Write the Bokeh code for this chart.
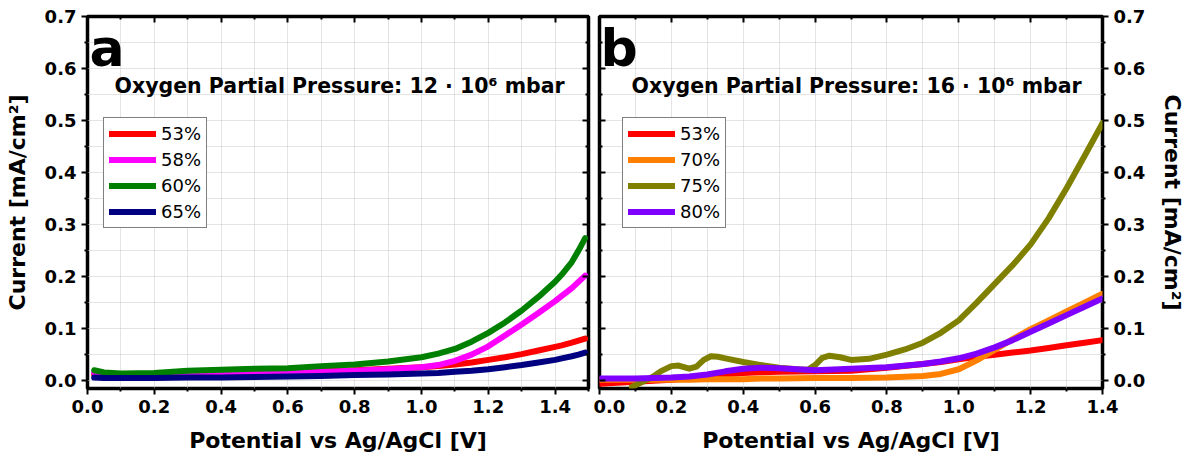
from bokeh.plotting import figure
from bokeh.layouts import row
from bokeh.models import (Range1d, LinearAxis, FixedTicker, PrintfTickFormatter,
                          Label, Legend, LegendItem)
from bokeh.embed import file_html
from bokeh.resources import INLINE

# ---------------- data: panel a (12 x 10^6 mbar) ----------------
xa = [0.02, 0.05, 0.1, 0.2, 0.3, 0.4, 0.5, 0.6, 0.7, 0.8, 0.9, 1.0, 1.05, 1.1,
      1.15, 1.2, 1.25, 1.3, 1.35, 1.4, 1.42, 1.45, 1.47, 1.49]
a_53 = [0.012, 0.011, 0.010, 0.010, 0.011, 0.012, 0.014, 0.016, 0.018, 0.020, 0.023,
        0.026, 0.028, 0.031, 0.035, 0.040, 0.045, 0.051, 0.058, 0.065, 0.068, 0.073,
        0.077, 0.081]
a_58 = [0.016, 0.012, 0.010, 0.010, 0.011, 0.012, 0.013, 0.015, 0.017, 0.019, 0.022,
        0.026, 0.030, 0.038, 0.050, 0.066, 0.087, 0.108, 0.130, 0.153, 0.163, 0.178,
        0.190, 0.202]
a_60 = [0.020, 0.016, 0.014, 0.015, 0.019, 0.021, 0.023, 0.024, 0.028, 0.031, 0.037,
        0.045, 0.052, 0.061, 0.075, 0.092, 0.112, 0.135, 0.161, 0.190, 0.204, 0.228,
        0.250, 0.274]
a_65 = [0.006, 0.005, 0.005, 0.005, 0.006, 0.006, 0.007, 0.008, 0.009, 0.011, 0.012,
        0.014, 0.015, 0.017, 0.019, 0.022, 0.026, 0.030, 0.035, 0.040, 0.043, 0.047,
        0.050, 0.054]
labels_a = ["53%", "58%", "60%", "65%"]
colors_a = ["#ff0000", "#ff00ff", "#008000", "#000080"]
title_a = "Oxygen Partial Pressure: 12 \u00b7 10\u2076 mbar"

# ---------------- data: panel b (16 x 10^6 mbar) ----------------
xb = [0.0, 0.1, 0.2, 0.25, 0.3, 0.35, 0.4, 0.45, 0.5, 0.6, 0.7, 0.8, 0.9, 0.95, 1.0,
      1.05, 1.1, 1.15, 1.2, 1.25, 1.3, 1.35, 1.4]
b_53 = [-0.006, -0.002, 0.002, 0.005, 0.008, 0.012, 0.015, 0.016, 0.017, 0.018, 0.019,
        0.025, 0.032, 0.036, 0.041, 0.046, 0.050, 0.054, 0.058, 0.063, 0.068, 0.073,
        0.078]
b_70 = [0.002, 0.002, 0.002, 0.002, 0.003, 0.003, 0.003, 0.004, 0.004, 0.005, 0.005,
        0.006, 0.009, 0.013, 0.022, 0.039, 0.059, 0.080, 0.099, 0.116, 0.133, 0.150,
        0.167]
b_80 = [0.004, 0.004, 0.006, 0.008, 0.012, 0.018, 0.023, 0.025, 0.024, 0.020, 0.023,
        0.026, 0.032, 0.037, 0.043, 0.052, 0.064, 0.078, 0.094, 0.110, 0.126, 0.142,
        0.158]
xb_75 = [0.09, 0.12, 0.15, 0.17, 0.2, 0.22, 0.25, 0.27, 0.29, 0.31, 0.33, 0.35, 0.4,
         0.45, 0.5, 0.55, 0.58, 0.6, 0.62, 0.64, 0.67, 0.7, 0.75, 0.8, 0.85, 0.9,
         0.95, 1.0, 1.05, 1.1, 1.15, 1.2, 1.25, 1.3, 1.35, 1.4]
b_75 = [-0.012, -0.002, 0.008, 0.018, 0.028, 0.029, 0.023, 0.027, 0.040, 0.047,
        0.046, 0.043, 0.036, 0.030, 0.025, 0.022, 0.021, 0.030, 0.044, 0.048, 0.045,
        0.040, 0.042, 0.050, 0.060, 0.073, 0.092, 0.116, 0.150, 0.186, 0.222, 0.262,
        0.312, 0.370, 0.432, 0.495]
labels_b = ["53%", "70%", "75%", "80%"]
colors_b = ["#ff0000", "#ff8000", "#808000", "#8000ff"]
title_b = "Oxygen Partial Pressure: 16 \u00b7 10\u2076 mbar"

# ---------------- axes ticks ----------------
x_major = [0.0, 0.2, 0.4, 0.6, 0.8, 1.0, 1.2, 1.4]
x_minor = [0.1, 0.3, 0.5, 0.7, 0.9, 1.1, 1.3, 1.5]
y_major = [0.0, 0.1, 0.2, 0.3, 0.4, 0.5, 0.6, 0.7]
y_minor = [0.05, 0.15, 0.25, 0.35, 0.45, 0.55, 0.65]
x_title = "Potential vs Ag/AgCl [V]"
y_title = "Current [mA/cm\u00b2]"

FONT = "DejaVu Sans"


def style_axis(ax, ticks_out, show_labels):
    ax.axis_line_color = None
    ax.major_tick_line_color = "black"
    ax.minor_tick_line_color = "black"
    ax.major_tick_line_width = 2
    ax.minor_tick_line_width = 2
    if ticks_out:
        ax.major_tick_out, ax.major_tick_in = 6, 0
        ax.minor_tick_out, ax.minor_tick_in = 3, 0
    else:
        ax.major_tick_out, ax.major_tick_in = 0, 6
        ax.minor_tick_out, ax.minor_tick_in = 0, 3
    if show_labels:
        ax.major_label_text_font = FONT
        ax.major_label_text_font_style = "bold"
        ax.major_label_text_font_size = "18px"
        ax.major_label_text_color = "black"
        ax.major_label_standoff = 5
        ax.axis_label_text_font = FONT
        ax.axis_label_text_font_style = "bold"
        ax.axis_label_text_font_size = "22px"
        ax.axis_label_text_color = "black"
    else:
        ax.major_label_text_font_size = "1px"
        ax.major_label_text_color = None
        ax.major_label_text_alpha = 0
        ax.major_label_standoff = 0
        ax.axis_label = None


def make_panel(width, x_end, b_left, b_right, xs_list, ys_list, labels, colors,
               title, letter, label_side, legend_x, title_x, letter_x):
    p = figure(width=width, height=466, x_range=Range1d(0, x_end),
               y_range=Range1d(-0.015, 0.7), output_backend="svg",
               toolbar_location=None, x_axis_location=None, y_axis_location=None,
               min_border_left=b_left, min_border_right=b_right,
               min_border_top=16, min_border_bottom=78)
    p.outline_line_color = "black"
    p.outline_line_width = 3.5
    p.outline_line_alpha = 1.0
    p.background_fill_color = "white"
    p.border_fill_color = "white"

    xt = FixedTicker(ticks=x_major, minor_ticks=x_minor)
    yt = FixedTicker(ticks=y_major, minor_ticks=y_minor)

    for g, t in ((p.xgrid, xt), (p.ygrid, yt)):
        g.ticker = t
        g.grid_line_color = "#c8c8c8"
        g.grid_line_dash = "1 1"
        g.grid_line_width = 1
        g.minor_grid_line_color = "#c8c8c8"
        g.minor_grid_line_dash = "1 1"
        g.minor_grid_line_width = 1

    bottom = LinearAxis(ticker=xt, formatter=PrintfTickFormatter(format="%.1f"),
                        axis_label=x_title)
    style_axis(bottom, True, True)
    bottom.axis_label_standoff = 12
    p.add_layout(bottom, "below")

    top = LinearAxis(ticker=xt)
    style_axis(top, False, False)
    p.add_layout(top, "above")

    ylab = LinearAxis(ticker=yt, formatter=PrintfTickFormatter(format="%.1f"),
                      axis_label=y_title)
    style_axis(ylab, True, True)
    ylab.axis_label_standoff = 12
    yplain = LinearAxis(ticker=yt)
    style_axis(yplain, False, False)
    if label_side == "left":
        p.add_layout(ylab, "left")
        p.add_layout(yplain, "right")
    else:
        p.add_layout(yplain, "left")
        p.add_layout(ylab, "right")

    items = []
    for xs, ys, lab, col in zip(xs_list, ys_list, labels, colors):
        r = p.line(xs, ys, line_color=col, line_width=6, line_join="round",
                   line_cap="round")
        items.append(LegendItem(label=lab, renderers=[r]))

    legend = Legend(items=items, location=(legend_x, 160), orientation="vertical",
                    border_line_color="black", border_line_width=1.2,
                    background_fill_color="white", background_fill_alpha=1.0,
                    label_text_font=FONT, label_text_font_size="18px",
                    label_text_color="black", glyph_width=47, glyph_height=21,
                    label_height=21, spacing=5, padding=5, margin=0,
                    label_standoff=5)
    p.add_layout(legend)

    p.add_layout(Label(x=title_x, y=303, x_units="screen", y_units="screen",
                       text=title, text_font=FONT, text_font_style="bold",
                       text_font_size="20.5px", text_color="black",
                       text_baseline="alphabetic"))
    p.add_layout(Label(x=letter_x, y=341, x_units="screen", y_units="screen",
                       text=letter, text_font=FONT, text_font_style="bold",
                       text_font_size="52px", text_color="black",
                       text_baseline="alphabetic"))
    return p


pa = make_panel(593, 1.5, 87, 5, [xa, xa, xa, xa], [a_53, a_58, a_60, a_65],
                labels_a, colors_a, title_a, "a", "left", 16, 27, 2)
pb = make_panel(595, 1.4, 6, 86, [xb, xb, xb_75, xb], [b_53, b_70, b_75, b_80],
                labels_b, colors_b, title_b, "b", "right", 23, 32, 1)

layout = row(pa, pb)
open("out.html", "w").write(file_html(layout, INLINE))
